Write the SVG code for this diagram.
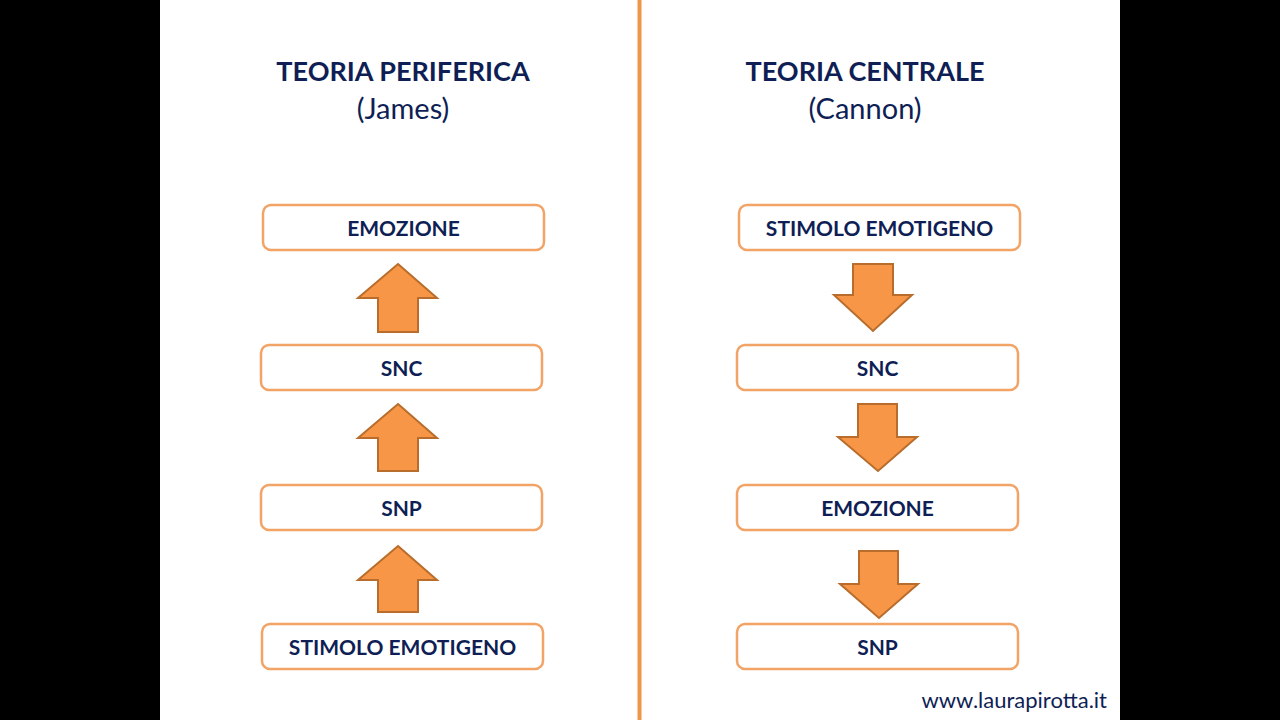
<svg xmlns="http://www.w3.org/2000/svg" width="1280" height="720" viewBox="0 0 1280 720">
<style>
.box{fill:#fff;stroke:#f2a366;stroke-width:2.5}
.lbl{font-family:Lato,"Open Sans",sans-serif;font-weight:bold;font-size:21px;fill:#0f1f55;text-anchor:middle}
.title{font-family:Lato,"Open Sans",sans-serif;font-weight:bold;font-size:27px;fill:#0f1f55;text-anchor:middle}
.sub{font-family:Lato,"Open Sans",sans-serif;font-size:29px;fill:#0f1f55;text-anchor:middle}
.arr{fill:#f79646;stroke:#b96d2c;stroke-width:2;stroke-linejoin:miter}
</style>
<rect x="0" y="0" width="1280" height="720" fill="#000"/>
<rect x="160" y="0" width="960" height="720" fill="#fff"/>
<line x1="639.5" y1="0" x2="639.5" y2="720" stroke="#f0954c" stroke-width="4"/>
<g id="title-left">
<text class="title" x="403" y="81">TEORIA PERIFERICA</text>
<text class="sub" x="403" y="119">(James)</text>
</g>
<g id="title-right">
<text class="title" x="865" y="81">TEORIA CENTRALE</text>
<text class="sub" x="865" y="119">(Cannon)</text>
</g>
<g id="l-emozione"><rect class="box" x="263" y="205" width="281" height="45" rx="8"/><text class="lbl" x="403.5" y="236">EMOZIONE</text></g>
<g id="l-snc"><rect class="box" x="261" y="345" width="281" height="45" rx="8"/><text class="lbl" x="401.5" y="376">SNC</text></g>
<g id="l-snp"><rect class="box" x="261" y="485" width="281" height="45" rx="8"/><text class="lbl" x="401.5" y="516">SNP</text></g>
<g id="l-stimolo"><rect class="box" x="262" y="624" width="281" height="45" rx="8"/><text class="lbl" x="402.5" y="655">STIMOLO EMOTIGENO</text></g>
<g id="r-stimolo"><rect class="box" x="739" y="205" width="281" height="45" rx="8"/><text class="lbl" x="879.5" y="236">STIMOLO EMOTIGENO</text></g>
<g id="r-snc"><rect class="box" x="737" y="345" width="281" height="45" rx="8"/><text class="lbl" x="877.5" y="376">SNC</text></g>
<g id="r-emozione"><rect class="box" x="737" y="485" width="281" height="45" rx="8"/><text class="lbl" x="877.5" y="516">EMOZIONE</text></g>
<g id="r-snp"><rect class="box" x="737" y="624" width="281" height="45" rx="8"/><text class="lbl" x="877.5" y="655">SNP</text></g>
<g id="connectors">
<polygon class="arr" points="398,264 437,298 418,298 418,332 378,332 378,298 358,298"/>
<polygon class="arr" points="398,404 437,438 418,438 418,471 378,471 378,438 358,438"/>
<polygon class="arr" points="398,546 437,580 418,580 418,612 378,612 378,580 358,580"/>
<polygon class="arr" points="853,264 893,264 893,295 912,295 873,331 834,295 853,295"/>
<polygon class="arr" points="858,404 897,404 897,437 917,437 878,471 838,437 858,437"/>
<polygon class="arr" points="859,551 898,551 898,584 918,584 879,618 840,584 859,584"/>
</g>
<text x="1107" y="708" font-family="Lato,'Open Sans',sans-serif" font-size="22" fill="#0f1f55" text-anchor="end">www.laurapirotta.it</text>
</svg>
